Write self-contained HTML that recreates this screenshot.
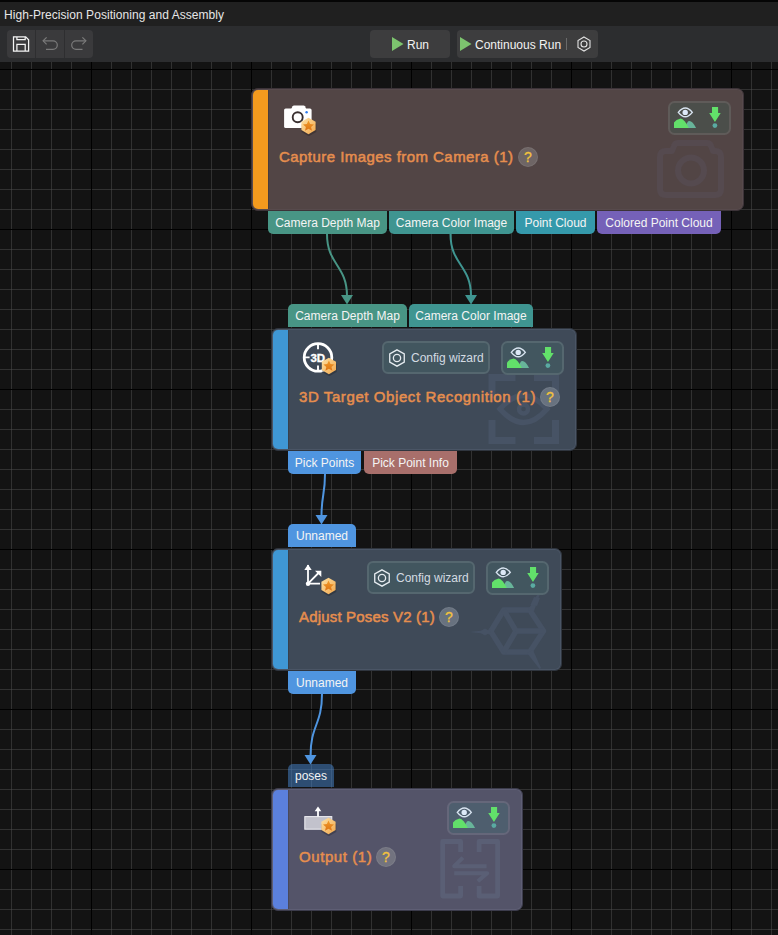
<!DOCTYPE html>
<html><head><meta charset="utf-8">
<style>
*{box-sizing:border-box;margin:0;padding:0}
html,body{width:778px;height:935px;overflow:hidden;background:#131313;font-family:"Liberation Sans",sans-serif}
.abs{position:absolute}
#topstrip{left:0;top:0;width:778px;height:2px;background:#050505}
#titlebar{left:0;top:2px;width:778px;height:24px;background:#202020;color:#e6e6e6;font-size:12px}
#titlebar span{position:absolute;left:4px;top:6px;white-space:nowrap;letter-spacing:0.05px}
#toolbar{left:0;top:26px;width:778px;height:36px;background:#2c2d2f}
#canvas{left:0;top:62px;width:778px;height:873px;overflow:hidden;background-color:#131313}
.tbtn{background:#3d3d3e;border-radius:4px;color:#f2f2f2;font-size:12px;white-space:nowrap}
.node{border-radius:7px;border:1px solid}
.strip{left:1px;top:1px;bottom:1px;width:15px;border-radius:5px 0 0 5px;box-shadow:1px 0 0 rgba(0,0,0,0.12)}
.tag{height:23px;color:#f4f4f4;font-size:12px;white-space:nowrap;text-align:center;line-height:25px}
.tout{border-radius:0 0 5px 5px}
.tin{border-radius:5px 5px 0 0}
.title{color:#e68e4e;font-size:15px;white-space:nowrap;-webkit-text-stroke:0.5px #e68e4e}
.q{width:20px;height:20px;border-radius:50%;color:#f2c23e;font-size:14px;text-align:center;line-height:21px;-webkit-text-stroke:0.3px #f2c23e;box-shadow:inset 0 0 0 1px rgba(255,255,255,0.07)}
.cw{border-radius:6px;border:2px solid #55676f;background:#42565f;color:#d4dbe2;font-size:12px;white-space:nowrap}
.eg{width:62px;height:33px;border-radius:6px;border:2px solid}
</style></head><body>
<div id="topstrip" class="abs"></div>
<div id="titlebar" class="abs"><span>High-Precision Positioning and Assembly</span></div>
<div id="toolbar" class="abs">
<div class="abs" style="left:7px;top:4px;width:86px;height:28px;background:#3a3a3c;border-radius:4px"></div>
<div class="abs" style="left:35px;top:4px;width:1px;height:28px;background:#2e2e30"></div>
<div class="abs" style="left:64px;top:4px;width:1px;height:28px;background:#2e2e30"></div>
<svg class="abs" style="left:0;top:0" width="100" height="36">
<g fill="none" stroke="#f4f4f4" stroke-width="1.25">
<path d="M13.5 10.9 H25.7 L28.6 13.8 V25.1 H13.5 Z"/>
<path d="M16.9 10.9 V13.6 H25.2 V10.9"/>
<path d="M16.9 25.1 V18.3 H25.2 V25.1"/>
</g>
<g fill="none" stroke="#7a7a7a" stroke-width="1.2">
<path d="M43.2 14.8 H53 A4.3 4.3 0 0 1 53 23.4 H46"/><path d="M46.6 11.3 L43.1 14.8 L46.6 18.3"/>
<path d="M85.8 14.8 H76 A4.3 4.3 0 0 0 76 23.4 H82.5"/><path d="M82.4 11.3 L85.9 14.8 L82.4 18.3"/>
</g>
</svg>
<div class="abs tbtn" style="left:370px;top:4px;width:80px;height:28px"></div>
<svg class="abs" style="left:392px;top:11px" width="12" height="14"><path d="M0 0 L11.5 7 L0 14 Z" fill="#7cc46e"/></svg>
<span class="abs" style="left:407px;top:12px;color:#f2f2f2;font-size:12px">Run</span>
<div class="abs tbtn" style="left:457px;top:4px;width:141px;height:28px"></div>
<svg class="abs" style="left:460px;top:11px" width="12" height="14"><path d="M0 0 L11.5 7 L0 14 Z" fill="#7cc46e"/></svg>
<span class="abs" style="left:475px;top:12px;color:#f2f2f2;font-size:12px;white-space:nowrap">Continuous Run</span>
<div class="abs" style="left:566px;top:12px;width:1px;height:12px;background:#6a6a6a"></div>
<svg class="abs" style="left:574px;top:8px" width="20" height="20"><g fill="none" stroke="#e2e2e2" stroke-width="1.1"><path d="M10 3 L16 6.5 L16 13.5 L10 17 L4 13.5 L4 6.5 Z"/><circle cx="10" cy="10" r="3"/></g></svg>
</div>
<div id="canvas" class="abs">
<svg width="778" height="873" style="position:absolute;left:0;top:0" shape-rendering="crispEdges">
<defs>
<pattern id="minorv" x="11" y="0" width="20" height="20" patternUnits="userSpaceOnUse">
<rect x="0" y="0" width="1" height="20" fill="rgba(80,80,80,0.5)"/>
</pattern>
<pattern id="minorh" x="0" y="-53" width="20" height="20" patternUnits="userSpaceOnUse">
<rect x="0" y="0" width="20" height="1" fill="rgba(80,80,80,0.5)"/>
</pattern>
<pattern id="major" x="91" y="7" width="160" height="160" patternUnits="userSpaceOnUse">
<rect x="0" y="0" width="1" height="160" fill="#000"/><rect x="0" y="0" width="160" height="1" fill="#000"/>
</pattern>
</defs>
<rect width="778" height="873" fill="url(#minorv)"/><rect width="778" height="873" fill="url(#minorh)"/>
<rect width="778" height="873" fill="url(#major)"/>
</svg>
</div>
<svg width="0" height="0" style="position:absolute">
<defs>
<linearGradient id="bgrad" x1="0" y1="0" x2="1" y2="1">
<stop offset="0" stop-color="#fde2a6"/><stop offset="1" stop-color="#f2a64a"/>
</linearGradient>
<linearGradient id="sgrad" x1="0" y1="0" x2="0" y2="1">
<stop offset="0" stop-color="#f29a28"/><stop offset="1" stop-color="#dc7416"/>
</linearGradient>
<symbol id="badge" viewBox="0 0 18 20">
<path d="M9 2.6 L16.4 6.8 V14.6 L9 18.8 L1.6 14.6 V6.8 Z" fill="#000" opacity="0.22" transform="translate(0.4,1.2)"/>
<path d="M9 1.5 L16.1 5.6 V13.9 L9 18 L1.9 13.9 V5.6 Z" fill="url(#bgrad)"/>
<path d="M9 4.3 L10.6 7.9 L14.5 8.2 L11.6 10.8 L12.5 14.6 L9 12.6 L5.5 14.6 L6.4 10.8 L3.5 8.2 L7.4 7.9 Z" fill="url(#sgrad)"/>
</symbol>
<symbol id="eyeg" viewBox="0 0 62 33">
<path d="M9.3 11.4 Q16.3 2.6 23.3 11.4 Q16.3 20.2 9.3 11.4 Z" fill="none" stroke="#d8e4f0" stroke-width="1.4"/>
<circle cx="16.2" cy="11.4" r="2.7" fill="#dde9f7"/>
<path d="M17 27.1 Q17.5 21 19.8 20 Q23.5 19.5 27.1 27.1 Z" fill="#68b49a"/>
<path d="M5 27.1 V21.5 Q7 18.5 11.6 17.5 Q15.5 18 19.9 27.1 Z" fill="#62e06a"/>
<path d="M43 6 H49.1 V12 H51.7 L45.95 20.9 L40.2 12 H43 Z" fill="#62e06a"/>
<circle cx="45.9" cy="24.6" r="2.4" fill="#5aaaa2"/>
</symbol>
<symbol id="hexi" viewBox="0 0 20 20">
<g fill="none" stroke="#e6ecf0" stroke-width="1.2"><path d="M10 2.6 L16.6 6.3 V13.7 L10 17.4 L3.4 13.7 V6.3 Z"/><circle cx="10" cy="10" r="3.3"/></g>
</symbol>
</defs>
</svg>

<!-- curves -->
<svg class="abs" style="left:0;top:0" width="778" height="935">
<g fill="none" stroke-width="2">
<path d="M327 234 C327 265 347 265 347 296" stroke="#489585"/>
<path d="M450.5 234 C450.5 265 471 265 471 296" stroke="#3f9591"/>
<path d="M325 474 C325 495 321.5 495 321.5 516" stroke="#4f95e0"/>
<path d="M322 694 C322 725 310.5 725 310.5 756" stroke="#4f95e0"/>
</g>
<path d="M341 295 H353 L347 304.5 Z" fill="#489585"/>
<path d="M465 295 H477 L471 304.5 Z" fill="#3f9591"/>
<path d="M315.5 515 H327.5 L321.5 524.5 Z" fill="#4f95e0"/>
<path d="M304.5 755 H316.5 L310.5 764.5 Z" fill="#4f95e0"/>
</svg>

<!-- NODE 1 -->
<div class="abs node" style="left:251px;top:88px;width:493px;height:123px;background:#524545;border-color:#3c3338;box-shadow:inset 0 0 0 1px #574a4c">
  <div class="abs strip" style="background:#f39a1e"></div>
</div>
<svg class="abs" style="left:251px;top:88px" width="493" height="122">
  <g fill="none" stroke="#554a4f" stroke-width="6" stroke-linejoin="round">
    <path d="M415 63 H421 L423 58 Q424 55 427 55 H456 Q459 55 460 58 L462 63 H464 Q470 63 470 69 V101 Q470 107 464 107 H415 Q409 107 409 101 V69 Q409 63 415 63 Z"/>
    <circle cx="440" cy="82.5" r="13"/>
  </g>
  <rect x="33.1" y="20.5" width="27.5" height="19.6" rx="1.6" fill="#fff"/>
  <path d="M40.2 21 L41.6 18.3 Q42.1 17.5 43 17.5 H52.6 Q53.5 17.5 54 18.3 L55.2 21 Z" fill="#fff"/>
  <circle cx="46.7" cy="29.3" r="5" fill="none" stroke="#3a3030" stroke-width="1.9"/>
  <circle cx="55.6" cy="24.3" r="1.2" fill="#2f7cf0"/>
  <use href="#badge" x="48.5" y="28.2" width="18" height="20"/>
  <div></div>
</svg>
<div class="abs title" style="left:279px;top:148px;letter-spacing:0.45px">Capture Images from Camera (1)</div>
<div class="abs q" style="left:518px;top:147px;background:#6e6565">?</div>
<svg class="abs" style="left:668px;top:101px" width="63" height="34">
<rect x="1" y="1" width="61" height="32" rx="5.5" fill="#4b4e4a" stroke="#5f5b59" stroke-width="2"/>
<use href="#eyeg" x="1" y="0" width="62" height="33"/>
</svg>

<!-- NODE 1 output tags -->
<div class="abs tag tout" style="left:268px;top:211px;width:119px;background:#489585">Camera Depth Map</div>
<div class="abs tag tout" style="left:389px;top:211px;width:125px;background:#3f9591">Camera Color Image</div>
<div class="abs tag tout" style="left:516px;top:211px;width:79px;background:#3599ab">Point Cloud</div>
<div class="abs tag tout" style="left:597px;top:211px;width:124px;background:#7561b8">Colored Point Cloud</div>

<!-- NODE 2 input tags -->
<div class="abs tag tin" style="left:288px;top:304px;width:119px;background:#489585">Camera Depth Map</div>
<div class="abs tag tin" style="left:409px;top:304px;width:124px;background:#3f9591">Camera Color Image</div>

<!-- NODE 2 -->
<div class="abs node" style="left:271px;top:328px;width:306px;height:123px;background:#3f4a58;border-color:#2f353e;box-shadow:inset 0 0 0 1px #4a5565">
  <div class="abs strip" style="background:#3f97d4"></div>
</div>
<svg class="abs" style="left:271px;top:328px" width="306" height="122">
  <g fill="none" stroke="#475365" stroke-width="7">
    <path d="M221 70 V49.5 H244.5 M263 49.5 H284.5 V70 M284.5 92 V112.5 H263 M244.5 112.5 H221 V92"/>
  </g>
  <g fill="none" stroke="#475365" stroke-width="5.5">
    <path d="M229 81 Q252.5 54 276 81 Q252.5 108 229 81 Z"/>
    <circle cx="252.5" cy="81" r="4.5" stroke-width="4.5"/>
  </g>
  <circle cx="47" cy="29.4" r="13.8" fill="none" stroke="#fff" stroke-width="2.8"/>
  <path d="M47 16 V21.2 M47 37.6 V42.8 M33.6 29.4 H38.6" stroke="#fff" stroke-width="1.9"/>
  <text x="46.8" y="33.7" font-family="Liberation Sans" font-weight="bold" font-size="11.5" fill="#fff" stroke="#fff" stroke-width="0.35" text-anchor="middle">3D</text>
  <use href="#badge" x="48.9" y="28.2" width="18" height="20"/>
</svg>
<div class="abs title" style="left:299px;top:388px;letter-spacing:0.59px">3D Target Object Recognition (1)</div>
<div class="abs q" style="left:540px;top:387px;background:#68727f">?</div>
<div class="abs cw" style="left:382px;top:341px;width:108px;height:33px">
  <svg class="abs" style="left:2px;top:4px" width="22" height="22"><use href="#hexi" width="22" height="22"/></svg>
  <span class="abs" style="left:27px;top:8px">Config wizard</span>
</div>
<svg class="abs" style="left:501px;top:341px" width="63" height="34">
<rect x="1" y="1" width="61" height="32" rx="5.5" fill="#42565f" stroke="#55676f" stroke-width="2"/>
<use href="#eyeg" x="1" y="0" width="62" height="33"/>
</svg>

<!-- NODE 2 output tags -->
<div class="abs tag tout" style="left:288px;top:451px;width:73px;background:#4f95e0">Pick Points</div>
<div class="abs tag tout" style="left:364px;top:451px;width:93px;background:#a86f6b">Pick Point Info</div>

<!-- NODE 3 input -->
<div class="abs tag tin" style="left:288px;top:524px;width:68px;background:#4f95e0">Unnamed</div>

<!-- NODE 3 -->
<div class="abs node" style="left:271px;top:548px;width:291px;height:123px;background:#3f4a58;border-color:#2f353e;box-shadow:inset 0 0 0 1px #4a5565">
  <div class="abs strip" style="background:#3f97d4"></div>
</div>
<svg class="abs" style="left:271px;top:548px" width="291" height="122">
  <g fill="none" stroke="#465264" stroke-width="5.5" stroke-linejoin="round">
    <path d="M219.7 83.4 L232.7 62 H258.7 L272.5 83 L258.7 104 H232.7 Z"/>
    <path d="M245 83 L232.7 62 M245 83 L232.7 104 M245 83 H272"/>
  </g>
  <g fill="#465264">
    <path d="M257 62 L266 47 L269 46 L263 63 Z"/>
    <path d="M259.5 57 L263 49 L269 50 L266 58 Z"/>
    <path d="M220 81.5 L199 84 L220 86.5 Z"/>
    <path d="M208 84 L214 80.5 L220 84 L214 87.5 Z"/>
    <path d="M256 105 L268.5 121 L270 120 L262 102 Z"/>
  </g>
  <path d="M37 35.7 V17" stroke="#fff" stroke-width="1.8"/>
  <path d="M33.3 22 H40.7 L37 16.5 Z" fill="#fff"/>
  <path d="M37 35.7 L48 24.5 M37 35.7 H49" stroke="#fff" stroke-width="1.8"/>
  <path d="M50.3 22.8 L50.3 29 L44 22.8 Z" fill="#fff"/>
  <circle cx="37" cy="35.7" r="2.2" fill="#fff"/>
  <use href="#badge" x="48.5" y="28.2" width="18" height="20"/>
</svg>
<div class="abs title" style="left:299px;top:608px;letter-spacing:0.18px">Adjust Poses V2 (1)</div>
<div class="abs q" style="left:439px;top:607px;background:#68727f">?</div>
<div class="abs cw" style="left:367px;top:561px;width:108px;height:33px">
  <svg class="abs" style="left:2px;top:4px" width="22" height="22"><use href="#hexi" width="22" height="22"/></svg>
  <span class="abs" style="left:27px;top:8px">Config wizard</span>
</div>
<svg class="abs" style="left:486px;top:561px" width="63" height="34">
<rect x="1" y="1" width="61" height="32" rx="5.5" fill="#42565f" stroke="#55676f" stroke-width="2"/>
<use href="#eyeg" x="1" y="0" width="62" height="33"/>
</svg>

<!-- NODE 3 output -->
<div class="abs tag tout" style="left:288px;top:671px;width:68px;background:#4f95e0">Unnamed</div>

<!-- NODE 4 input -->
<div class="abs tag tin" style="left:288px;top:764px;width:46px;background:rgba(72,135,210,0.5)">poses</div>

<!-- NODE 4 -->
<div class="abs node" style="left:271px;top:788px;width:252px;height:123px;background:#545469;border-color:#3c3c4c;box-shadow:inset 0 0 0 1px #5e5e74">
  <div class="abs strip" style="background:#5b80dd"></div>
</div>
<svg class="abs" style="left:271px;top:788px" width="252" height="122">
  <g fill="none" stroke="#5a5f75" stroke-width="4.8" stroke-linejoin="round">
    <path d="M189.6 64 V53.5 H171.7 V108 H189.6 V98 M208.1 64 V53.5 H226.6 V108 H208.1 V98"/>
    <path d="M215.6 78.2 H183.2 L191.9 69.6 M183.2 85.2 H216.2 L206.8 93.2" stroke-width="4" stroke-linejoin="round"/>
  </g>
  <rect x="33.8" y="28.6" width="27" height="12.6" fill="#c2c2cc" stroke="#f0f0f4" stroke-width="1"/>
  <path d="M47 28.5 V22" stroke="#fff" stroke-width="1.8"/>
  <path d="M43.7 23.3 H50.3 L47 18.5 Z" fill="#fff"/>
  <use href="#badge" x="48.5" y="28.2" width="18" height="20"/>
</svg>
<div class="abs title" style="left:299px;top:848px;letter-spacing:0.58px">Output (1)</div>
<div class="abs q" style="left:376px;top:847px;background:#72737f">?</div>
<svg class="abs" style="left:447px;top:801px" width="63" height="34">
<rect x="1" y="1" width="61" height="32" rx="5.5" fill="#4e5e6e" stroke="#65677a" stroke-width="2"/>
<use href="#eyeg" x="1" y="0" width="62" height="33"/>
</svg>

</body></html>
